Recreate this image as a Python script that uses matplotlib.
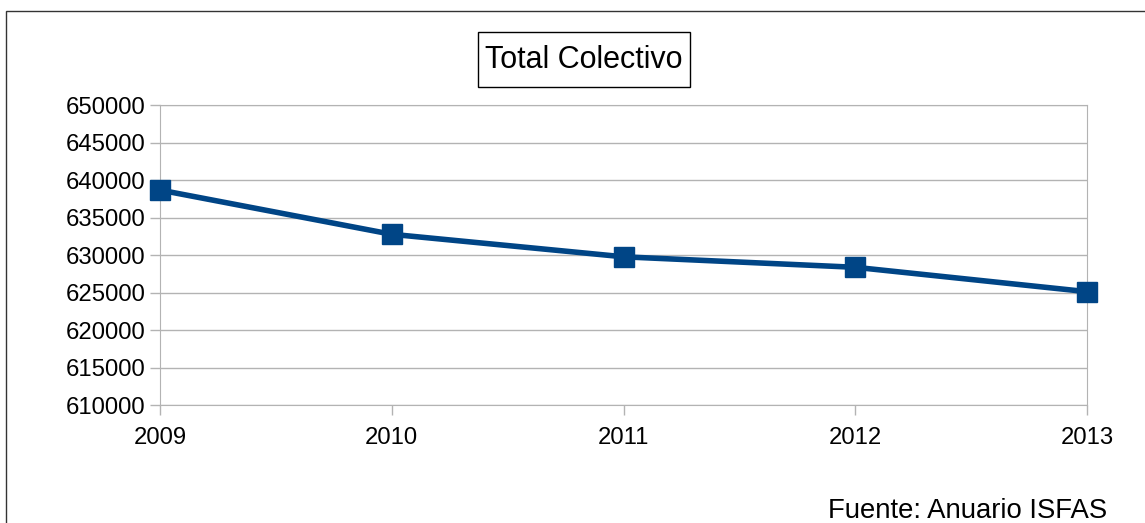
import matplotlib.pyplot as plt
from matplotlib.patches import Rectangle

plt.rcParams['font.family'] = ['Liberation Sans', 'DejaVu Sans']

# Total colectivo ISFAS por año
years = [2009, 2010, 2011, 2012, 2013]
total = [638700, 632800, 629800, 628400, 625150]
y_ticks = list(range(610000, 650001, 5000))

W, H = 1145, 523
fig = plt.figure(figsize=(W / 100, H / 100), dpi=100)
ax = fig.add_axes([160 / W, 1 - 405.3 / H, 927 / W, 300 / H])

ax.plot(years, total, color='#004586', lw=4, marker='s', markersize=14, zorder=3, clip_on=False)

ax.set_xlim(2009, 2013)
ax.set_ylim(610000, 650000)
ax.set_xticks(years)
ax.set_yticks(y_ticks)
ax.set_xticklabels([str(y) for y in years])
ax.set_yticklabels([str(v) for v in y_ticks])
ax.grid(axis='y', color='#b3b3b3', lw=1)
ax.set_axisbelow(True)
for side in ['left', 'right', 'bottom', 'top']:
    ax.spines[side].set_color('#b3b3b3')
ax.tick_params(axis='both', colors='#b3b3b3', labelcolor='black', labelsize=17.2, length=7.5, width=1)
ax.tick_params(axis='y', pad=3)
ax.tick_params(axis='x', pad=8)

# Título en caja
fig.text(584 / W, 1 - 60 / H, 'Total Colectivo', fontsize=22, ha='center', va='center')
fig.patches.append(Rectangle((478 / W, 1 - 87 / H), 212 / W, 55 / H, transform=fig.transFigure,
                             fill=False, edgecolor='black', lw=1))

fig.text(1107 / W, 1 - 511 / H, 'Fuente: Anuario ISFAS', fontsize=19.8, ha='right', va='center')

# Marco exterior
fig.patches.append(Rectangle((6 / W, -0.1), 1.1, 1.1 - 11 / H, transform=fig.transFigure,
                             fill=False, edgecolor='#333333', lw=1))

fig.savefig('out.png', dpi=100)
